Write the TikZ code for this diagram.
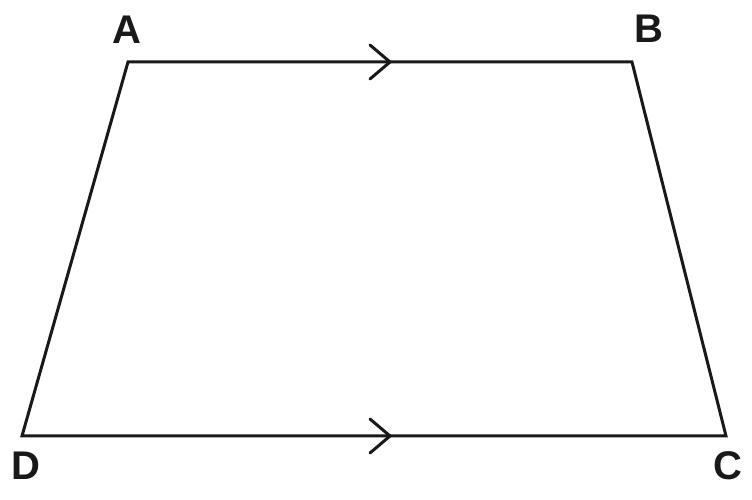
\documentclass[tikz,border=0pt]{standalone}
\usepackage{fontspec}
\setmainfont{Liberation Sans}
\usetikzlibrary{calc}
\begin{document}
\begin{tikzpicture}[x=1pt,y=1pt,
  edge/.style={line width=3pt,line join=miter,black!90},
  chev/.style={line width=3pt,line cap=round,line join=miter,black!90},
  lab/.style={font=\fontsize{40}{40}\selectfont\bfseries,inner sep=0pt,text=black!90}]
\useasboundingbox (0,0) rectangle (752,500);
\coordinate (A) at (128,438);
\coordinate (B) at (632,438);
\coordinate (C) at (726,64);
\coordinate (D) at (22,64);
\draw[edge] (A) -- (B) -- (C) -- (D) -- cycle;
\coordinate (t1) at (390,438);
\coordinate (t2) at (390,64);
\draw[chev] ($(t1)+(-20,17)$) -- (t1) -- ($(t1)+(-20,-17)$);
\draw[chev] ($(t2)+(-20,17)$) -- (t2) -- ($(t2)+(-20,-17)$);
\node[lab] (la) at (127,470) {A};
\node[lab] (lb) at (649,471) {B};
\node[lab] (lc) at (728,34) {C};
\node[lab] (ld) at (26,34) {D};
\end{tikzpicture}
\end{document}
